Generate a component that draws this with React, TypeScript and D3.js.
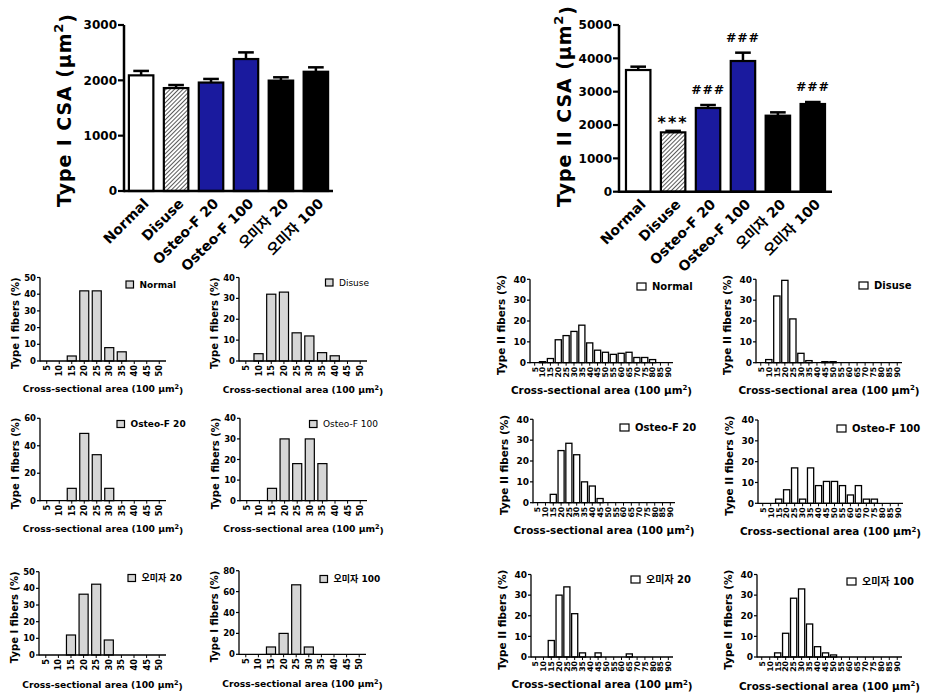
import React from 'react';
import * as d3 from 'd3';

// ---------- data ----------
const groups = ['Normal', 'Disuse', 'Osteo-F 20', 'Osteo-F 100', '오미자 20', '오미자 100'];
const typeICSA = [2090, 1860, 1960, 2385, 1995, 2155];
const typeICSAErrTop = [2170, 1915, 2025, 2505, 2055, 2235];
const typeIICSA = [3650, 1780, 2510, 3920, 2280, 2630];
const typeIICSAErrTop = [3750, 1825, 2600, 4170, 2380, 2690];
const typeIIMarks = ['', '***', '###', '###', '', '###'];
const typeITicks = [0, 1000, 2000, 3000];
const typeIITicks = [0, 1000, 2000, 3000, 4000, 5000];

const catsI = [5, 10, 15, 20, 25, 30, 35, 40, 45, 50];
const catsII = [5, 10, 15, 20, 25, 30, 35, 40, 45, 50, 55, 60, 65, 70, 75, 80, 85, 90];

const histINormal = [0, 0, 3, 42, 42, 8, 5.5, 0, 0, 0];
const histIDisuse = [0, 3.5, 32, 33, 13.5, 12, 4, 2.5, 0, 0];
const histIOsteo20 = [0, 0, 9, 49, 33.5, 9, 0, 0, 0, 0];
const histIOsteo100 = [0, 0, 6, 30, 18, 30, 18, 0, 0, 0];
const histIOmija20 = [0, 0, 12, 36.5, 42.5, 9, 0, 0, 0, 0];
const histIOmija100 = [0, 0, 7, 20, 66.5, 7, 0, 0, 0, 0];

const histIINormal = [0, 0.5, 2, 11, 13, 15, 18, 9.5, 6, 5, 4, 4.5, 5, 2.5, 2.5, 1.5, 0, 0];
const histIIDisuse = [0, 1.5, 32, 39.5, 21, 4.5, 1, 0, 0.5, 0.5, 0, 0, 0, 0, 0, 0, 0, 0];
const histIIOsteo20 = [0, 0, 4, 25, 28.5, 23, 10, 8, 2, 0, 0, 0, 0, 0, 0, 0, 0, 0];
const histIIOsteo100 = [0, 0, 2, 6.5, 17, 2, 17, 8.5, 10.5, 10.5, 8.5, 4, 8.5, 2, 2, 0, 0, 0];
const histIIOmija20 = [0, 0, 8, 30, 34, 21, 2, 0, 2, 0, 0, 0, 1.5, 0, 0, 0, 0, 0];
const histIIOmija100 = [0, 0, 2, 11.5, 28.5, 33, 16, 5, 2, 1, 0, 0, 0, 0, 0, 0, 0, 0];

// ---------- style ----------
const FONT = "'DejaVu Sans', 'Noto Sans CJK KR', sans-serif";
const BLUE = '#1a1a9e';
const groupFill = ['#ffffff', 'url(#hatch)', BLUE, BLUE, '#000000', '#000000'];

type BarCfg = {
  x0: number; x1: number; yB: number; yT: number; max: number; ticks: number[];
  vals: number[]; errs: number[]; marks?: string[]; padOuter: number;
  label: string; labelX: number; labelY: number;
};

function BarChart({ c }: { c: BarCfg }) {
  const x = d3.scaleBand<string>().domain(groups).range([c.x0, c.x1]).paddingInner(0.3).paddingOuter(c.padOuter);
  const y = d3.scaleLinear().domain([0, c.max]).range([c.yB, c.yT]);
  const bw = x.bandwidth();
  return (
    <g fontFamily={FONT}>
      {groups.map((g, i) => {
        const cx = (x(g) as number) + bw / 2;
        return (
          <g key={g}>
            <line x1={cx} x2={cx} y1={y(c.vals[i])} y2={y(c.errs[i])} stroke="#000" strokeWidth={2.5} />
            <line x1={cx - bw * 0.32} x2={cx + bw * 0.32} y1={y(c.errs[i])} y2={y(c.errs[i])} stroke="#000" strokeWidth={2.5} />
            <rect x={x(g)} y={y(c.vals[i])} width={bw} height={c.yB - y(c.vals[i])} fill={groupFill[i]} stroke="#000" strokeWidth={2.2} />
            {c.marks && c.marks[i] ? (
              <text x={cx} y={y(c.errs[i]) - 11} textAnchor="middle" fontSize={c.marks[i] === '***' ? 16 : 12.5}
                fontWeight="bold" letterSpacing={c.marks[i] === '***' ? 2 : 0.8}
                dy={c.marks[i] === '***' ? '0.5em' : 0}>{c.marks[i]}</text>
            ) : null}
            <text transform={`translate(${cx + 5},${c.yB + 10}) rotate(-45)`} textAnchor="end" fontSize={14}
              fontWeight="bold" dy="0.35em">{g}</text>
          </g>
        );
      })}
      <line x1={c.x0} x2={c.x1} y1={c.yB} y2={c.yB} stroke="#000" strokeWidth={2.5} />
      <line x1={c.x0} x2={c.x0} y1={c.yB + 1.2} y2={c.yT} stroke="#000" strokeWidth={2.5} />
      {c.ticks.map(t => (
        <g key={t}>
          <line x1={c.x0 - 6} x2={c.x0} y1={y(t)} y2={y(t)} stroke="#000" strokeWidth={2.2} />
          <text x={c.x0 - 7} y={y(t)} dy="0.36em" textAnchor="end" fontSize={12} fontWeight="bold">{t}</text>
        </g>
      ))}
      <text transform={`translate(${c.labelX},${c.labelY}) rotate(-90)`} textAnchor="middle" fontSize={19}
        fontWeight="bold" dy="0.36em" letterSpacing={0.9}>
        {c.label} (μm<tspan fontSize={13} dy="-0.6em">2</tspan><tspan dy="0.6em">)</tspan>
      </text>
    </g>
  );
}

type HistCfg = {
  x0: number; x1: number; yB: number; yT: number; max: number; step: number;
  cats: number[]; vals: number[]; open: boolean; legend: string; lx: number; ly: number;
  legendBold: boolean; yLabel: string; xLabelY: number;
};

function Hist({ c }: { c: HistCfg }) {
  const big = c.open;
  const x = d3.scaleBand<string>().domain(c.cats.map(String)).range([c.x0 + 1, c.x1 - 1])
    .paddingInner(big ? 0.22 : 0.28).paddingOuter(big ? 0.08 : 0.1);
  const y = d3.scaleLinear().domain([0, c.max]).range([c.yB, c.yT]);
  const ticks = d3.range(0, c.max + 0.001, c.step);
  const bw = x.bandwidth();
  const tickFs = big ? 9 : 8.5;
  const sw = big ? 9 : 7.5;
  return (
    <g fontFamily={FONT} fontWeight="bold">
      {c.cats.map((k, i) => c.vals[i] > 0 ? (
        <rect key={k} x={x(String(k))} y={y(c.vals[i])} width={bw} height={c.yB - y(c.vals[i])}
          fill={c.open ? '#fff' : '#d6d6d6'} stroke="#000" strokeWidth={big ? 1.3 : 1.2} />
      ) : null)}
      <line x1={c.x0} x2={c.x1} y1={c.yB} y2={c.yB} stroke="#000" strokeWidth={1.3} />
      <line x1={c.x0} x2={c.x0} y1={c.yB + 0.6} y2={c.yT} stroke="#000" strokeWidth={1.3} />
      {ticks.map(t => (
        <g key={t}>
          <line x1={c.x0 - 3} x2={c.x0} y1={y(t)} y2={y(t)} stroke="#000" strokeWidth={1.2} />
          <text x={c.x0 - 4} y={y(t)} dy="0.36em" textAnchor="end" fontSize={tickFs}>{t}</text>
        </g>
      ))}
      {c.cats.map(k => {
        const cx = (x(String(k)) as number) + bw / 2;
        return (
          <g key={k}>
            <line x1={cx} x2={cx} y1={c.yB} y2={c.yB + 3} stroke="#000" strokeWidth={1} />
            <text transform={`translate(${cx},${c.yB + 4}) rotate(-90)`} dy="0.36em" textAnchor="end"
              fontSize={big ? 7.8 : 8.3}>{k}</text>
          </g>
        );
      })}
      <rect x={c.lx} y={c.ly - 3.5} width={sw} height={7} fill={c.open ? '#fff' : '#d6d6d6'} stroke="#000" strokeWidth={1.2} />
      <text x={c.lx + sw + 6} y={c.ly} dy="0.36em" fontSize={big ? 10 : 9}
        fontWeight={c.legendBold ? 'bold' : 'normal'}>{c.legend}</text>
      <text transform={`translate(${c.x0 - (big ? 29 : 25)},${(c.yB + c.yT) / 2 + 4}) rotate(-90)`} textAnchor="middle"
        dy="0.36em" fontSize={big ? 10.5 : 10}>{c.yLabel}</text>
      <text x={(c.x0 + c.x1) / 2} y={c.xLabelY} dy="0.36em" textAnchor="middle" fontSize={big ? 10.4 : 9.2}>
        Cross-sectional area (100 μm<tspan fontSize={big ? 7 : 6.5} dy="-0.5em">2</tspan><tspan dy="0.5em">)</tspan>
      </text>
    </g>
  );
}

const histI = [
  { vals: histINormal, legend: 'Normal', max: 50, step: 10, x0: 40, x1: 166, yB: 361, yT: 277.5, lx: 126, ly: 284.5, xl: 389, lb: true },
  { vals: histIDisuse, legend: 'Disuse', max: 40, step: 10, x0: 239, x1: 367, yB: 361, yT: 277.5, lx: 325.5, ly: 282.5, xl: 390, lb: false },
  { vals: histIOsteo20, legend: 'Osteo-F 20', max: 60, step: 20, x0: 40, x1: 166, yB: 500.7, yT: 418.3, lx: 117, ly: 424, xl: 529, lb: true },
  { vals: histIOsteo100, legend: 'Osteo-F 100', max: 40, step: 10, x0: 240, x1: 367, yB: 500.7, yT: 418.3, lx: 309.5, ly: 424, xl: 529, lb: false },
  { vals: histIOmija20, legend: '오미자 20', max: 50, step: 10, x0: 39, x1: 166, yB: 655, yT: 571.7, lx: 128, ly: 578, xl: 685, lb: true },
  { vals: histIOmija100, legend: '오미자 100', max: 80, step: 20, x0: 239, x1: 366, yB: 654.3, yT: 570.7, lx: 320, ly: 579, xl: 684, lb: true },
];
const histII = [
  { vals: histIINormal, legend: 'Normal', x0: 530, x1: 673, yB: 362.7, yT: 279.3, lx: 637, ly: 286.5, xl: 390 },
  { vals: histIIDisuse, legend: 'Disuse', x0: 756, x1: 902, yB: 362.7, yT: 279.3, lx: 859, ly: 285.5, xl: 390 },
  { vals: histIIOsteo20, legend: 'Osteo-F 20', x0: 533, x1: 675, yB: 502.7, yT: 419.3, lx: 620, ly: 427.5, xl: 530 },
  { vals: histIIOsteo100, legend: 'Osteo-F 100', x0: 758, x1: 903, yB: 503.3, yT: 420, lx: 837, ly: 428.5, xl: 531.5 },
  { vals: histIIOmija20, legend: '오미자 20', x0: 531, x1: 673, yB: 657, yT: 574.5, lx: 631, ly: 579.5, xl: 684.5 },
  { vals: histIIOmija100, legend: '오미자 100', x0: 757, x1: 902, yB: 657, yT: 574.5, lx: 847, ly: 581.5, xl: 686 },
];

export default function App() {
  return (
    <svg width={933} height={696} style={{ position: 'absolute', left: 0, top: 0, background: '#fff' }}>
      <defs>
        <pattern id="hatch" width={3} height={3} patternUnits="userSpaceOnUse" patternTransform="rotate(45)">
          <rect width={3} height={3} fill="#fff" />
          <line x1={0} y1={0} x2={0} y2={3} stroke="#000" strokeWidth={1.3} />
        </pattern>
      </defs>
      <rect width={933} height={696} fill="#fff" />
      <BarChart c={{ x0: 124, x1: 333, yB: 191, yT: 25, max: 3000, ticks: typeITicks, vals: typeICSA,
        errs: typeICSAErrTop, padOuter: 0.14, label: 'Type I CSA', labelX: 64, labelY: 110 }} />
      <BarChart c={{ x0: 619, x1: 832, yB: 191.7, yT: 25, max: 5000, ticks: typeIITicks, vals: typeIICSA,
        errs: typeIICSAErrTop, marks: typeIIMarks, padOuter: 0.2, label: 'Type II CSA', labelX: 564, labelY: 106 }} />
      {histI.map((h, i) => (
        <Hist key={'a' + i} c={{ x0: h.x0, x1: h.x1, yB: h.yB, yT: h.yT, max: h.max, step: h.step, cats: catsI,
          vals: h.vals, open: false, legend: h.legend, lx: h.lx, ly: h.ly, legendBold: h.lb,
          yLabel: 'Type I fibers (%)', xLabelY: h.xl }} />
      ))}
      {histII.map((h, i) => (
        <Hist key={'b' + i} c={{ x0: h.x0, x1: h.x1, yB: h.yB, yT: h.yT, max: 40, step: 10, cats: catsII,
          vals: h.vals, open: true, legend: h.legend, lx: h.lx, ly: h.ly, legendBold: true,
          yLabel: 'Type II fibers (%)', xLabelY: h.xl }} />
      ))}
    </svg>
  );
}
